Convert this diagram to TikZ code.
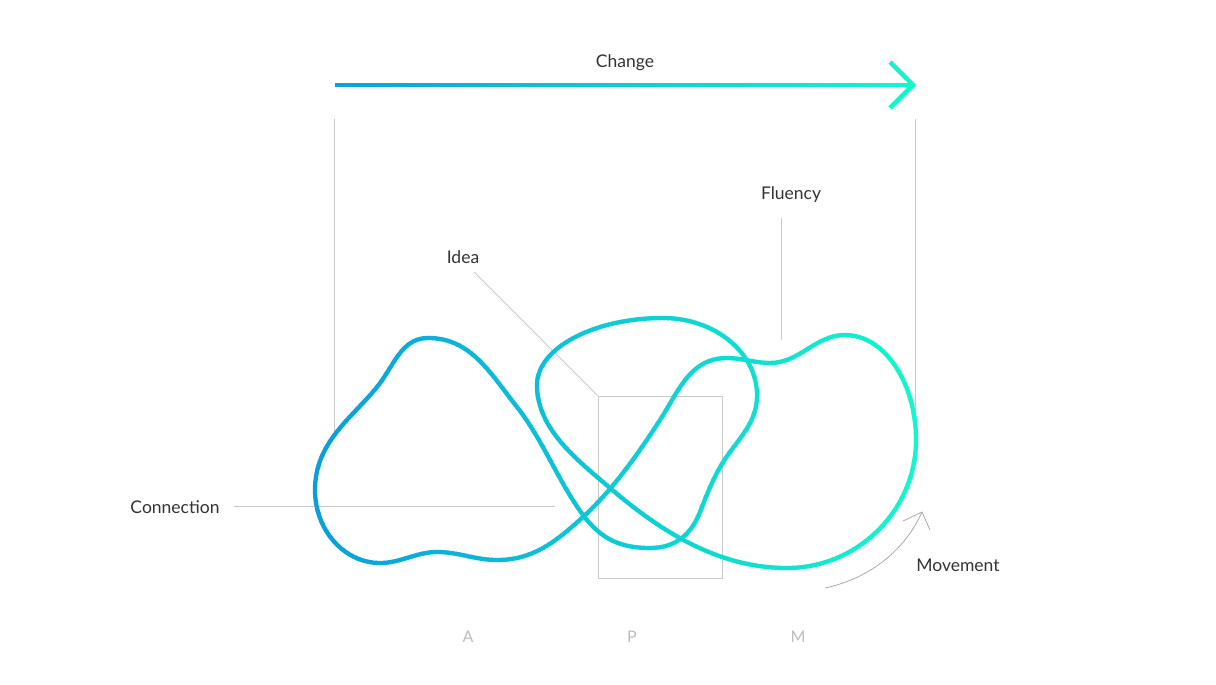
\documentclass[tikz,border=0pt]{standalone}
\usepackage{fontspec}
\setmainfont{Lato}
\usetikzlibrary{calc}
\definecolor{cA}{HTML}{0A9FDB}
\definecolor{cB}{HTML}{12F8CC}
\definecolor{thin}{HTML}{C9C9C9}
\definecolor{txt}{HTML}{333333}
\definecolor{lbl}{HTML}{BDBDBD}
\newcommand\blobpath{(428,338) .. controls (471,338) and (490,373) .. (517,407)
 .. controls (543,440) and (558,481) .. (583,515)
 .. controls (601,539) and (620,548) .. (650,548)
 .. controls (675,548) and (691,535) .. (700,512)
 .. controls (708.5,490) and (716,471) .. (730,452)
 .. controls (744,433) and (757,419) .. (757,395)
 .. controls (757,353) and (715,318) .. (663,318)
 .. controls (594,318) and (537,348) .. (537,385)
 .. controls (537,429) and (576.6,459.4) .. (610,488)
 .. controls (659,530) and (717,568) .. (787,568)
 .. controls (858,568) and (916,510) .. (916,440)
 .. controls (916,382) and (884,335) .. (845,335)
 .. controls (815,335) and (800,363) .. (770,363)
 .. controls (755,363) and (742,358) .. (727,358)
 .. controls (690,358) and (679,390.6) .. (660,420)
 .. controls (638,454) and (613,489.5) .. (583,517)
 .. controls (556,541.5) and (533.5,560) .. (497,560)
 .. controls (475,560) and (459,552) .. (437,552)
 .. controls (416,552) and (401,563) .. (380,563)
 .. controls (344,563) and (315,530) .. (315,490)
 .. controls (315,442) and (352,418) .. (377,387)
 .. controls (394,366) and (401,338) .. cycle}
\tikzset{
  lab/.style={text=txt, font=\fontsize{17.5}{20}\selectfont, inner sep=0pt},
  axl/.style={text=lbl, font=\fontsize{16}{19}\selectfont, inner sep=0pt},
  thinline/.style={draw=thin, line width=0.9pt},
  thick/.style={line width=4.3pt}
}
\begin{document}
\begin{tikzpicture}[x=1pt,y=-1pt]
\useasboundingbox (0,0) rectangle (1216,685);
% labels
\node[lab] (change) at (625,63) {Change};
\node[lab] (fluency) at (791,195) {Fluency};
\node[lab] (idea) at (463,257) {Idea};
\node[lab] (connection) at (175,507) {Connection};
\node[lab] (movement) at (958,565) {Movement};
\node[axl] (la) at (468,637) {A};
\node[axl] (lp) at (632,637) {P};
\node[axl] (lm) at (798,637) {M};
% thin lines
\node[thinline, minimum width=124pt, minimum height=182pt, inner sep=0pt] (ideabox) at (660,487) {};
\coordinate (ideaS) at (474,272);
\draw[thinline] (ideaS) -- (ideabox.north west);
\coordinate (connE) at (555,506);
\coordinate (connS) at (234,506);
\draw[thinline] (connS) -- (connE);
\coordinate (fluS) at (781,218);
\coordinate (fluE) at (781,340);
\draw[thinline] (fluS) -- (fluE);
\coordinate (vlA) at (334,119);
\coordinate (vlB) at (334,432);
\coordinate (vrA) at (915,119);
\coordinate (vrB) at (915,440);
\draw[thinline] (vlA) -- (vlB);
\draw[thinline] (vrA) -- (vrB);
% movement arrow
\coordinate (mvS) at (825,588);
\coordinate (mvT) at (922,512);
\coordinate (mvH1) at (903,521);
\coordinate (mvH2) at (930,530);
\draw[thinline, line width=0.8pt, draw=lbl!90!black] (mvS) .. controls (872,578) and (906,548) .. (mvT);
\draw[thinline, line width=0.8pt, draw=lbl!90!black] (mvH1) -- (mvT) -- (mvH2);
% change arrow coordinates
\coordinate (chS) at (335,85);
\coordinate (chT) at (913,85);
\coordinate (chH1) at (890,62);
\coordinate (chH2) at (890,108);
% gradient strokes via strips
\foreach \i in {0,...,159}{
  \pgfmathsetmacro\xa{300+4*\i}
  \pgfmathtruncatemacro\p{min(100,max(0,(\xa+2-318)/(916-318)*100))}
  \begin{scope}
    \clip (\xa-0.5,0) rectangle (\xa+4.5,685);
    \draw[thick, color=cB!\p!cA] \blobpath;
    \draw[thick, color=cB!\p!cA] (chS) -- ($(chT)+(-2,0)$);
    \draw[thick, color=cB!\p!cA, miter limit=10] (chH1) -- (chT) -- (chH2);
  \end{scope}
}
\end{tikzpicture}
\end{document}
